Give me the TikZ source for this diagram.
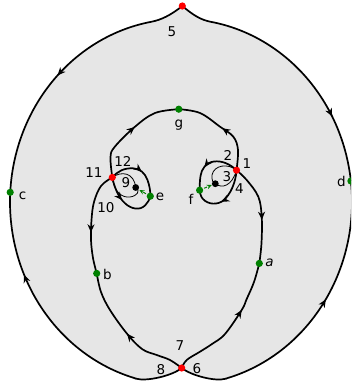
\documentclass[tikz,border=0pt]{standalone}
\usepackage{fontspec}
\setmainfont{DejaVu Sans}
\usetikzlibrary{arrows.meta,decorations.markings}
\definecolor{bgfill}{RGB}{230,230,230}
\definecolor{dgreen}{RGB}{0,128,0}
\tikzset{
  bound/.style={line width=1.7pt, black},
  sep/.style={line width=1.7pt, black},
  thinsep/.style={line width=0.8pt, black},
  midarrow/.style={postaction={decorate,decoration={markings,mark=at position #1 with {\arrow{Stealth[length=8pt,width=7pt,inset=2.5pt]}}}}},
  midarrowrev/.style={postaction={decorate,decoration={markings,mark=at position #1 with {\arrowreversed{Stealth[length=8pt,width=7pt,inset=2.5pt]}}}}},
  rdot/.style={circle, fill=red, inner sep=0pt, minimum size=7.2pt},
  gdot/.style={circle, fill=dgreen, inner sep=0pt, minimum size=7.2pt},
  kdot/.style={circle, fill=black, inner sep=0pt, minimum size=6.8pt},
  lbl/.style={font=\fontsize{13.5}{15}\selectfont, inner sep=0pt, text=black},
  garrow/.style={dgreen, line width=1pt, densely dashed, -{Stealth[length=5pt,width=4.5pt]}}
}
\begin{document}
\begin{tikzpicture}[x=1pt,y=-1pt]
\useasboundingbox (0,0) rectangle (351,385);
\clip (0,0) rectangle (351,385);
% key points
\coordinate (p5) at (182.3,6);
\coordinate (p6) at (181.7,368);
\coordinate (pc) at (10.2,192.3);
\coordinate (pd) at (350.9,181);
\coordinate (jtl) at (151.3,21.8);
\coordinate (jtr) at (210.7,21.8);
\coordinate (jbl) at (136.7,378.8);
\coordinate (jbr) at (225.3,378.8);
\coordinate (pg) at (178.8,109.2);
\coordinate (pa) at (259.3,263.4);
\coordinate (pb) at (96.7,273.4);
\coordinate (pe) at (150.3,196.2);
\coordinate (pf) at (199.6,190.2);
\coordinate (pBL) at (135.7,187.5);
\coordinate (pBR) at (215.3,183.7);
\coordinate (p11) at (112.3,177.4);
\coordinate (p1) at (236.5,170.2);
\coordinate (tL) at (139.4,190);
\coordinate (tR) at (211.8,185);
% region fill
\fill[bgfill] (p5) .. controls (171,15) and (161.3,19.9) .. (jtl)
  -- plot[domain=260:105, samples=90, variable=\t] ({181+171*cos(\t)},{202+183*sin(\t)})
  -- (jbl) .. controls (146.3,381.5) and (172,376) .. (p6)
  .. controls (192,376) and (215.7,381.6) .. (jbr)
  -- plot[domain=75:-80, samples=90, variable=\t] ({181+171*cos(\t)},{202+183*sin(\t)})
  -- (jtr) .. controls (200.7,19.9) and (193,15) .. (p5) -- cycle;
% boundary
\draw[bound, midarrowrev=0.47] (pc) -- plot[domain=183:260, samples=60, variable=\t] ({181+171*cos(\t)},{202+183*sin(\t)})
  .. controls (161.3,19.9) and (171,15) .. (p5);
\draw[bound, midarrow=0.74] (p5) .. controls (193,15) and (200.7,19.9) .. (jtr)
  -- plot[domain=-80:-6.6, samples=60, variable=\t] ({181+171*cos(\t)},{202+183*sin(\t)}) -- (pd);
\draw[bound, midarrowrev=0.41] (pd) -- plot[domain=-6.6:75, samples=60, variable=\t] ({181+171*cos(\t)},{202+183*sin(\t)})
  -- (jbr) .. controls (215.7,381.6) and (192,376) .. (p6);
\draw[bound, midarrow=0.71] (p6) .. controls (172,376) and (146.3,381.5) .. (jbl)
  -- plot[domain=105:183, samples=60, variable=\t] ({181+171*cos(\t)},{202+183*sin(\t)}) -- (pc);
% big inner separatrices
\draw[sep, midarrow=0.55] plot[smooth, tension=0.6] coordinates {(p11) (110.5,157) (115,146.5) (135,126.7) (155,113) (pg)};
\draw[sep, midarrow=0.5] plot[smooth, tension=0.6] coordinates {(p1) (238,150) (233.3,136.7) (220,126.7) (200,113) (pg)};
\draw[sep, midarrow=0.6] plot[smooth, tension=0.6] coordinates {(p11) (101,186) (94,202) (91.5,220) (91,240) (93,258) (pb)};
\draw[sep, midarrow=0.49] plot[smooth, tension=0.6] coordinates {(p6) (170,360) (156.7,355) (142,349) (126.7,333.3) (110,310) (101,292) (pb)};
\draw[sep, midarrow=0.57] plot[smooth, tension=0.6] coordinates {(p1) (246.7,180) (258.3,196.7) (261.7,216.7) (261.5,243) (pa)};
\draw[sep, midarrow=0.63] plot[smooth, tension=0.6] coordinates {(p6) (186.7,360) (200,351.7) (212,344) (225,334) (241.7,310) (246.7,299) (254,282) (pa)};
% small loops
\draw[sep, midarrow=0.55] (p11) .. controls (118,171) and (124,168) .. (133,168.3)
  .. controls (140,168.6) and (145,173) .. (147.5,180) .. controls (149.5,185.5) and (150.5,191) .. (pe);
\draw[sep, midarrow=0.4] (p11) .. controls (114,186) and (118,197) .. (125,203.3)
  .. controls (131,209) and (140,211) .. (145.5,205) .. controls (148,202.5) and (149.5,199.5) .. (pe);
\draw[sep, midarrow=0.6] (p1) .. controls (230,164) and (222,160.5) .. (214,161.5)
  .. controls (206,162.5) and (201.5,169) .. (200.5,176) .. controls (199.8,181) and (199.6,186) .. (pf);
\draw[sep, midarrow=0.55] (p1) .. controls (236,181) and (231,195) .. (222,201.5)
  .. controls (214,206) and (205,203) .. (201.5,197) .. controls (200.5,195) and (199.8,192.5) .. (pf);
% thin separatrices
\draw[thinsep] (p11) .. controls (121,171) and (134,172) .. (pBL);
\draw[thinsep] (p11) .. controls (114,193) and (123,198) .. (130,197) .. controls (137,196) and (141,191) .. (pBL);
\draw[thinsep] (p1) .. controls (228,163) and (214,165) .. (212,175) .. controls (211.5,180) and (213,183) .. (pBR);
\draw[thinsep] (pBR) .. controls (222,189) and (232,186) .. (p1);
% green arrows
\draw[garrow] (pe) -- (tL);
\draw[garrow] (pf) -- (tR);
% dots
\node[rdot] (d5) at (p5) {};
\node[rdot] (d6) at (p6) {};
\node[rdot] (d11) at (p11) {};
\node[rdot] (d1) at (p1) {};
\node[gdot] (dc) at (pc) {};
\node[gdot] (dd) at (pd) {};
\node[gdot] (dg) at (pg) {};
\node[gdot] (da) at (pa) {};
\node[gdot] (db) at (pb) {};
\node[gdot] (de) at (pe) {};
\node[gdot] (df) at (pf) {};
\node[kdot] (dBL) at (pBL) {};
\node[kdot] (dBR) at (pBR) {};
% labels
\node[lbl] (l5) at (172,32) {5};
\node[lbl] (l1) at (247,164) {1};
\node[lbl] (l2) at (228,155) {2};
\node[lbl] (l3) at (227,177) {3};
\node[lbl] (l4) at (239.5,189) {4};
\node[lbl] (l11) at (94,173) {11};
\node[lbl] (l12) at (123,161) {12};
\node[lbl] (l9) at (126,183) {9};
\node[lbl] (l10) at (106,208) {10};
\node[lbl] (le) at (160,197) {e};
\node[lbl] (lf) at (191,199) {f};
\node[lbl] (lg) at (179,125) {g};
\node[lbl] (la) at (269.5,262.5) {\textit{a}};
\node[lbl] (lb) at (107.5,274) {b};
\node[lbl] (lc) at (22.5,196) {c};
\node[lbl] (ld) at (341.5,181) {d};
\node[lbl] (l7) at (180,346) {7};
\node[lbl] (l8) at (161,370) {8};
\node[lbl] (l6) at (197,369) {6};
\end{tikzpicture}
\end{document}
